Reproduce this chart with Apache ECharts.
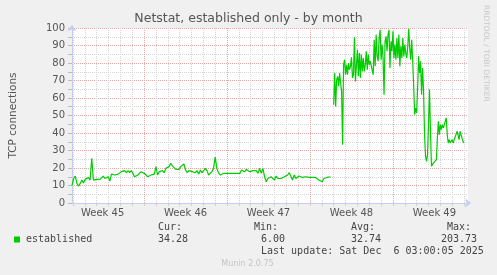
<!DOCTYPE html>
<html><head><meta charset="utf-8">
<script src="https://cdn.jsdelivr.net/npm/echarts@6/dist/echarts.min.js"></script>
<style>html,body{margin:0;padding:0;background:#f0f0f0}#c{width:497px;height:275px}</style>
</head><body><div id="c"></div>
<script>
// hours since Mon 3 Nov 2025 00:00 (start of Week 45)
const seg1StartHour = 22;
const seg1StepHours = 10 / 3;
const seg1Values = [10.0,14.0,15.4,11.2,9.6,11.2,13.1,11.5,13.5,13.1,14.6,13.1,25.6,13.1,14.0,13.5,13.1,13.5,12.7,15.4,
14.0,13.1,15.0,12.5,16.5,15.4,16.0,15.0,16.5,17.3,17.9,16.9,18.5,17.3,18.5,17.3,18.5,16.9,15.0,14.0,
16.0,16.9,17.9,17.3,16.9,16.0,15.0,14.0,16.0,16.9,16.5,20.8,16.0,17.9,16.9,18.5,17.3,19.8,18.8,20.8,
22.7,21.2,21.7,19.2,19.8,19.2,20.8,19.8,22.3,18.8,17.3,18.5,19.2,17.9,18.8,17.3,18.5,16.5,18.8,17.3,
16.5,19.8,18.5,16.0,15.4,17.9,19.8,26.2,19.8,17.3,16.0,16.5,16.9,16.0,16.9,16.5,16.9,16.0,16.9,17.9,
16.9,17.9,16.9,18.8,19.8,17.9,19.2,18.5,17.9,18.8,18.5,
18.1,18.5,16.9,19.8,16.9,19.8,15.0,12.1,14.0,13.1,15.0,14.0,13.1,15.4,14.0,15.0,14.0,14.6,15.0,14.0,
16.0,17.3,16.9,13.1,16.0,14.0,15.0,15.4,16.5,14.6,14.0,15.0,14.0,14.6,13.5,14.6,14.0,14.6,13.5,13.1,
14.0,12.1,14.0,13.5,14.6,15.4,15.0];
const seg2StartHour = 552;
const seg2StepHours = 2;
const seg2Values = [56.2,74.3,55.2,70.5,72.4,66.7,74.3,68.6,63.8,33.3,79.0,81.9,73.3,79.0,73.3,80.0,76.2,78.1,83.2,71.4,
73.3,94.7,69.5,68.6,87.6,72.4,85.7,71.4,84.8,75.2,82.9,75.2,79.0,86.7,76.2,84.8,79.0,81.0,80.0,81.9,
73.3,93.3,78.1,96.2,83.8,81.0,94.3,99.0,81.9,90.5,82.9,61.9,92.4,95.2,86.7,96.2,99.0,77.1,92.4,86.7,
98.1,82.9,90.5,81.9,94.3,
82.9,96.2,78.1,89.5,82.9,94.3,83.8,90.5,85.7,82.9,89.5,99.6,88.6,81.9,93.3,81.0,66.7,50.5,54.3,51.4,
65.7,83.8,74.3,81.0,61.9,77.1,63.8,39.0,26.7,23.8,27.6,44.8,64.8,41.0,21.0,21.9,22.9,23.4,23.8,24.8,
37.1,46.7,39.0,44.8,41.9,44.8,42.9,44.8,45.7,48.6,39.0,34.3,36.2,34.3,35.2,36.2,34.3,36.2,35.2,37.1,
41.0,41.9,36.2,41.0,39.0,37.1,35.2,34.3];
const weekLabels = ['Week 45','Week 46','Week 47','Week 48','Week 49'];
const weekMidHours = [84, 252, 420, 588, 756];
const seriesName = 'established';
const statLabels = ['Cur:', 'Min:', 'Avg:', 'Max:'];
const statValues = ['34.28', '6.00', '32.74', '203.73'];
const lastUpdate = 'Last update: Sat Dec  6 03:00:05 2025';
const yTitle = 'TCP connections';
const chartTitle = 'Netstat, established only - by month';

const GREEN = '#00cc00';
const RED = '#e8a8a8', GRAY = '#d6d6d6', AXIS = '#c9ccf2';
const dayHours = [];
for (let h = 24; h <= 816; h += 24) dayHours.push(h);
const dayColors = [GRAY, GRAY, GRAY, GRAY, GRAY, GRAY, RED];

const s1 = seg1Values.map((v, i) => [seg1StartHour + i * seg1StepHours, v]);
const s2 = seg2Values.map((v, i) => [seg2StartHour + i * seg2StepHours, v]);

const chart = echarts.init(document.getElementById('c'), null, {renderer: 'canvas'});
const mono = '10px "DejaVu Sans Mono"';
const statX = [158, 254, 351, 447];
const valX = [158, 261, 351, 441];
const graphic = [
  {type: 'rect', shape: {x: 14, y: 236.5, width: 6, height: 6}, style: {fill: GREEN}},
  {type: 'text', x: 26, y: 239.5, style: {text: seriesName, font: mono, fill: '#444', verticalAlign: 'middle', textVerticalAlign: 'middle'}},
  {type: 'text', x: 261, y: 251.5, style: {text: lastUpdate, font: mono, fill: '#444', verticalAlign: 'middle', textVerticalAlign: 'middle'}},
  {type: 'text', x: 247.5, y: 263.5, style: {text: 'Munin 2.0.75', font: '8px "DejaVu Sans"', fill: '#c4c4c4', align: 'center', textAlign: 'center', verticalAlign: 'middle', textVerticalAlign: 'middle'}},
  {type: 'text', x: 486, y: 5, rotation: -Math.PI / 2, style: {text: 'RRDTOOL / TOBI OETIKER', font: '7.5px "DejaVu Sans"', fill: '#c8c8c8', verticalAlign: 'middle', textVerticalAlign: 'middle'}}
];
statLabels.forEach((t, i) => {
  graphic.push({type: 'text', x: statX[i], y: 227.5, style: {text: t, font: mono, fill: '#444', verticalAlign: 'middle', textVerticalAlign: 'middle'}});
  graphic.push({type: 'text', x: valX[i], y: 239.5, style: {text: statValues[i], font: mono, fill: '#444', verticalAlign: 'middle', textVerticalAlign: 'middle'}});
});

chart.setOption({
  backgroundColor: '#f0f0f0',
  animation: false,
  title: {text: chartTitle, left: 'center', top: 12, padding: 0,
    textStyle: {fontFamily: 'DejaVu Sans', fontSize: 12.5, fontWeight: 'normal', color: '#555'}},
  grid: {left: 67, right: 29, top: 28, bottom: 72, show: true, backgroundColor: '#ffffff', borderWidth: 0},
  xAxis: [
    {type: 'value', min: 22, max: 824, position: 'bottom',
      axisLine: {show: true, lineStyle: {color: AXIS, width: 1}, symbol: ['none', 'arrow'], symbolSize: [7, 6], symbolOffset: [0, 3]},
      axisTick: {show: false},
      splitLine: {show: false},
      axisLabel: {customValues: weekMidHours, margin: 5, color: '#555', fontFamily: 'DejaVu Sans', fontSize: 10,
        formatter: v => weekLabels[weekMidHours.indexOf(v)] || ''}},
    {type: 'value', min: 22, max: 824, position: 'bottom', gridIndex: 0,
      axisLine: {show: false},
      axisLabel: {show: false},
      axisTick: {show: true, customValues: dayHours, length: 3, inside: false, lineStyle: {color: '#cfcfcf'}},
      splitLine: {show: true, lineStyle: {color: dayColors, type: 'dotted', width: 1}}}
  ],
  yAxis: {type: 'value', min: 0, max: 100, interval: 5,
    name: yTitle, nameLocation: 'middle', nameGap: 53, nameRotate: 90,
    nameTextStyle: {fontFamily: 'DejaVu Sans', fontSize: 10.5, color: '#555'},
    axisLine: {show: true, lineStyle: {color: AXIS, width: 1}, symbol: ['none', 'arrow'], symbolSize: [7, 6], symbolOffset: [0, 3]},
    axisTick: {show: true, length: 4, lineStyle: {color: '#bbb'}},
    axisLabel: {margin: 7, color: '#555', fontFamily: 'DejaVu Sans', fontSize: 10,
      formatter: v => (v % 10 === 0 ? String(v) : '')},
    splitLine: {show: true, lineStyle: {color: [RED, GRAY], type: 'dotted', width: 1}}},
  series: [
    {type: 'line', name: seriesName, data: s1, xAxisIndex: 0, showSymbol: false, symbol: 'none',
      lineStyle: {color: GREEN, width: 1.2}, itemStyle: {color: GREEN}, z: 3},
    {type: 'line', name: seriesName, data: s2, xAxisIndex: 0, showSymbol: false, symbol: 'none',
      lineStyle: {color: GREEN, width: 1.2}, itemStyle: {color: GREEN}, z: 3}
  ],
  graphic: graphic
});
</script></body></html>
